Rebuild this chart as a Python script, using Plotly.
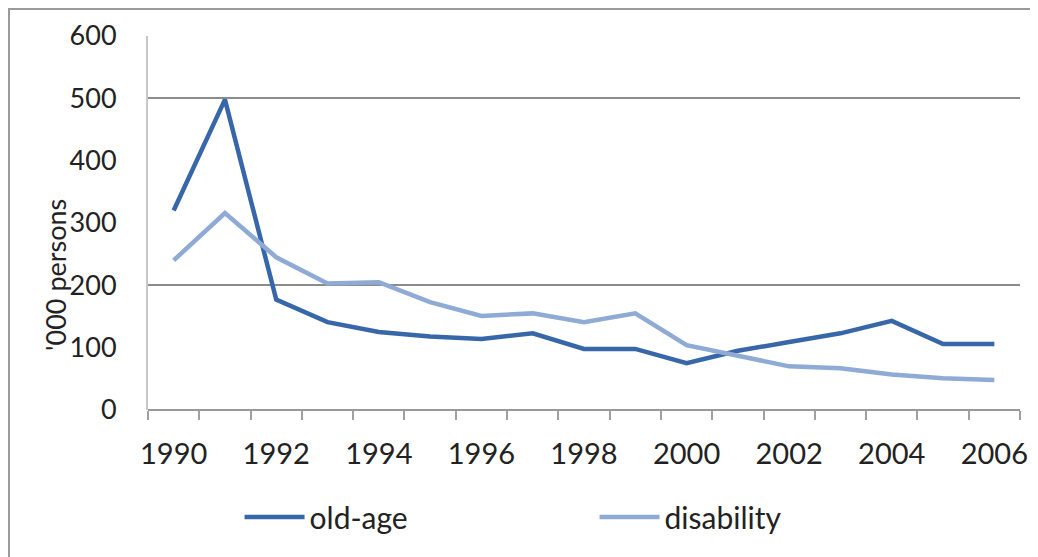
import plotly.graph_objects as go

years = list(range(1990, 2007))
old_age = [320, 498, 177, 141, 125, 118, 114, 123, 98, 98, 75, 95, 109, 123, 143, 106, 106]
disability = [240, 316, 245, 203, 205, 173, 151, 155, 141, 155, 104, 87, 70, 67, 57, 51, 48]
x_labels = [str(y) for y in range(1990, 2007, 2)]
y_title = "'000 persons"

FONT = "Lato"
FS = 27
# plot area size in px (page is offset by 8px body margin)
L, T, PW, PH = 140, 28, 872, 374

fig = go.Figure()
fig.add_trace(go.Scatter(x=years, y=old_age, mode="lines", name="old-age",
                         line=dict(color="#3767A8", width=4.5)))
fig.add_trace(go.Scatter(x=years, y=disability, mode="lines", name="disability",
                         line=dict(color="#8EAAD5", width=4.5)))

fig.update_layout(
    width=1038, height=557,
    margin=dict(l=L, r=1038 - L - PW, t=T, b=557 - T - PH, autoexpand=False),
    paper_bgcolor="white", plot_bgcolor="white",
    font=dict(family=FONT, size=FS, color="#222222"),
    showlegend=True,
    legend=dict(orientation="h", x=0.105, y=-0.286, xanchor="left", yanchor="middle",
                entrywidth=280, entrywidthmode="pixels", font=dict(size=30),
                itemwidth=60, bgcolor="rgba(0,0,0,0)"),
    xaxis=dict(range=[1989.5, 2006.5], tickmode="array", automargin=False,
               tickvals=[int(v) for v in x_labels], ticktext=x_labels,
               tickfont=dict(size=29),
               ticks="", showgrid=False, zeroline=False,
               showline=False, ticklabelstandoff=24,
               minor=dict(tickmode="array", tickvals=[y - 0.5 for y in range(1990, 2008)],
                          ticks="outside", ticklen=9, tickcolor="#a0a0a0", tickwidth=2,
                          showgrid=False)),
    yaxis=dict(range=[0, 600], tickmode="array", tickvals=[0, 100, 200, 300, 400, 500, 600],
               automargin=False,
               showgrid=False, zeroline=True, zerolinecolor="#999999", zerolinewidth=2,
               showline=True, linecolor="#c8c8c8", linewidth=2, ticks="",
               ticklabelstandoff=24,
               minor=dict(tickmode="array", tickvals=[200, 500], showgrid=True,
                          gridcolor="#8c8c8c", gridwidth=2, ticks="")),
)

fig.add_annotation(text=y_title, textangle=-90, xref="paper", yref="paper",
                   x=(55 - 148) / PW, y=(410 - 275) / PH, showarrow=False,
                   xanchor="center", yanchor="middle", font=dict(size=FS))

# outer chart frame (left and top edges visible)
fig.add_shape(type="rect", xref="paper", yref="paper",
              x0=(1 - L) / PW, x1=(1038 - L + 20) / PW,
              y0=-(557 - T - PH + 20) / PH, y1=(PH + T - 1) / PH,
              line=dict(color="#9a9a9a", width=2), layer="above")

fig.write_html("out.html")
